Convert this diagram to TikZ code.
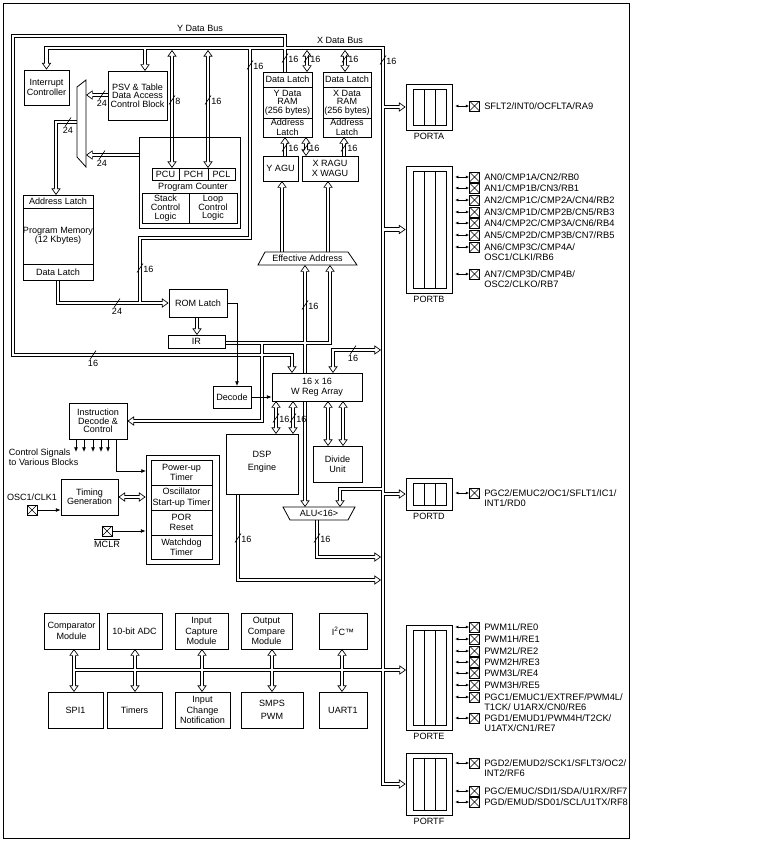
\documentclass[tikz,border=0pt]{standalone}
\usepackage{fontspec}
\setmainfont{Liberation Sans}
\usetikzlibrary{arrows.meta,fit,positioning}
\pgfdeclarelayer{background}
\pgfsetlayers{background,main}

\newcommand{\boxfont}{\fontsize{6.8}{7.8}\selectfont}
\newcommand{\tightfont}{\fontsize{6.8}{6.5}\selectfont}
\newcommand{\loosefont}{\fontsize{6.8}{9.5}\selectfont}
\newcommand{\pinfont}{\fontsize{7}{8}\selectfont}

\tikzset{
  box/.style={draw, line width=0.6pt, inner sep=0pt},
  lbl/.style={inner sep=0.5pt, align=center, font=\boxfont},
  pintext/.style={inner sep=0pt, anchor=west, align=left, font=\pinfont},
  pinx/.style={draw, line width=0.5pt, minimum size=7.5pt, inner sep=0pt,
    path picture={\draw[line width=0.4pt]
      (path picture bounding box.north west) -- (path picture bounding box.south east)
      (path picture bounding box.south west) -- (path picture bounding box.north east);}},
  wire/.style={line width=0.6pt},
  sig/.style={wire, -{Latex[length=3.5pt,width=3pt]}},
  pinarrow/.style={line width=0.5pt, {Latex[length=2.5pt,width=2.2pt]}-{Latex[length=2.5pt,width=2.2pt]}},
  bt/.tip={Triangle[length=5pt,width=7pt,line width=0.5pt,fill=white]},
}

% block between two corners, with its text centred
\newcommand{\blk}[5][]{%
  \node[box, fit={(#3) (#4)}] (#2) {};
  \node[lbl, #1] (#2-t) at (#2.center) {#5};}
% width mark on a vertical bus, number to the right
\newcommand{\bitv}[3]{%
  \draw[line width=0.5pt] (#1-3,#2+4.5) -- (#1+3,#2-4.5);
  \node[lbl, anchor=west] (bw#1-#2) at (#1+2.5,#2+1) {#3};}
% width mark on a horizontal bus, number below
\newcommand{\bith}[3]{%
  \draw[line width=0.5pt] (#1-3,#2+4.5) -- (#1+3,#2-4.5);
  \node[lbl, anchor=north] (bw#1-#2) at (#1,#2+4) {#3};}

% all hollow buses, drawn twice (outline pass, then white pass)
\newcommand{\busnet}{%
  % X data bus
  \draw[bus, tipB] (intctl.north) -- (intctl.north |- xbus) -- (xbus) -- (xbus |- portF.west) -- (portF.west);
  \draw[bus, tipE] (145,48) -- (145,71);
  \draw[bus, tipB] (172,50) -- (172,168);
  \draw[bus, tipB] (208,50) -- (208,168);
  \draw[bus] (250,48) -- (250,238) -- (140,238) -- (140,303);
  \draw[bus, tipB] (307,50) -- (307,72);
  \draw[bus, tipB] (345,50) -- (345,72);
  \draw[bus, tipE] (xbus |- portA.west) -- (portA.west);
  \draw[bus, tipE] (xbus |- portB.west) -- (portB.west);
  \draw[bus, tipE] (xbus |- portD.west) -- (portD.west);
  \draw[bus, tipE] (74,670) -- (406,670);
  \draw[bus, tipB] (333,373) -- (333,350) -- (381,350);
  \draw[bus, tipE] (383,489) -- (340,489) -- (340,507);
  \draw[bus, tipE] (317,520) -- (317,557) -- (381,557);
  \draw[bus, tipE] (238,494) -- (238,580) -- (381,580);
  % Y data bus
  \draw[bus, tipE] (285,72) -- (285,36) -- (13,36) -- (13,355) -- (292,355) -- (292,373);
  % program side
  \draw[bus, tipE] (pdlatch.south) -- (58,303) -- (romlatch.west);
  \draw[bus, tipE] (108,95) -- (86,95);
  \draw[bus, tipE] (139,155) -- (86,155);
  \draw[bus, tipE] (77,122) -- (56,122) -- (56,195);
  \draw[bus, tipE] (197,317) -- (197,335);
  \draw[bus, tipE] (225,343) -- (330,343) -- (330,265);
  \draw[bus, tipE] (262,343) -- (262,421) -- (instdec.east);
  % address generation
  \draw[bus, tipE] (282,252) -- (282,181);
  \draw[bus, tipE] (328,252) -- (328,181);
  \draw[bus, tipE] (285,156) -- (285,137);
  \draw[bus, tipB] (306,156) -- (306,137);
  \draw[bus, tipE] (344,156) -- (344,137);
  % W registers
  \draw[bus, tipE] (305,373) -- (305,265);
  \draw[bus, tipE] (305,401) -- (305,507);
  \draw[bus, tipB] (276,401) -- (276,434);
  \draw[bus, tipB] (293,401) -- (293,434);
  \draw[bus, tipB] (328,401) -- (328,446);
  \draw[bus, tipB] (343,401) -- (343,446);
  \draw[bus, tipB] (timing.east) -- (resetbox.west |- timing.east);
  % peripherals
  \foreach \x in {74,135,202,272,342} {\draw[bus, tipB] (\x,649) -- (\x,692);}
}

\begin{document}
\begin{tikzpicture}[x=0.75pt, y=-0.75pt]
\useasboundingbox (0,0) rectangle (768,842);
\draw[wire] (3,3) rectangle (629,838);

\coordinate (xbus) at (383,48);
\node[lbl] (ybuslbl) at (200,28) {Y Data Bus};
\node[lbl] (xbuslbl) at (340,40) {X Data Bus};

% program side
\blk{intctl}{24,70}{69,105}{Interrupt\\Controller}
\blk[font=\tightfont]{psv}{108,71}{167,120}{PSV \& Table\\Data Access\\Control Block}
\draw[wire] (77,87) -- (86,80) -- (86,167) -- (77,157) -- cycle;
\node[box, fit={(139,137) (240,228)}] (pcbox) {};
\blk{pcu}{152,168}{179,180}{PCU}
\blk{pch}{179,168}{208,180}{PCH}
\blk{pcl}{208,168}{235,180}{PCL}
\node[lbl] (pclbl) at (193,187) {Program Counter};
\blk[font=\tightfont]{stack}{142,193}{189,223}{Stack\\Control\\Logic}
\blk[font=\tightfont]{loopc}{189,193}{237,223}{Loop\\Control\\Logic}
\blk{addrlatch}{23,195}{93,208}{Address Latch}
\blk[font=\tightfont]{pmem}{23,208}{93,264}{Program Memory\\(12 Kbytes)}
\blk{pdlatch}{23,264}{93,280}{Data Latch}
\blk{romlatch}{169,289}{227,317}{ROM Latch}
\blk{ir}{168,335}{225,348}{IR}

% data memories
\blk{ydlatch}{263,72}{312,87}{Data Latch}
\blk[font=\tightfont]{yram}{263,87}{312,118}{Y Data\\RAM\\(256 bytes)}
\blk{yalatch}{263,118}{312,137}{Address\\Latch}
\blk{xdlatch}{323,72}{371,87}{Data Latch}
\blk[font=\tightfont]{xram}{323,87}{371,118}{X Data\\RAM\\(256 bytes)}
\blk{xalatch}{323,118}{371,137}{Address\\Latch}
\blk{yagu}{263,156}{298,181}{Y AGU}
\blk{xagu}{302,156}{358,181}{X RAGU\\X WAGU}
\draw[wire] (265,252) -- (348,252) -- (357,265) -- (258,265) -- cycle;
\node[lbl] (ea) at (307.5,258.5) {Effective Address};

% execution
\blk{decode}{213,386}{251,408}{Decode}
\blk{wreg}{272,373}{362,401}{16 x 16\\W Reg Array}
\blk[font=\loosefont, yshift=1.5pt]{dsp}{226,434}{298,494}{DSP\\Engine}
\blk{divide}{313,446}{362,482}{Divide\\Unit}
\draw[wire] (283,507) -- (355,507) -- (348,520) -- (290,520) -- cycle;
\node[lbl] (alu) at (319,513.5) {ALU<16>};

% control and reset
\blk[font=\tightfont]{instdec}{69,403}{127,439}{Instruction\\Decode \&\\Control}
\node[lbl, anchor=west, align=left] (ctrlsig) at (8,457) {Control Signals\\to Various Blocks};
\blk[font=\tightfont]{timing}{61,479}{118,515}{Timing\\Generation}
\node[pinx] (oscpin) at (32,510) {};
\node[lbl, above=2pt of oscpin] (osclbl) {OSC1/CLK1};
\node[pinx] (mclrpin) at (107,531) {};
\node[lbl, below=1pt of mclrpin] (mclrlbl) {$\overline{\mbox{MCLR}}$};
\node[box, fit={(146,455) (219,564)}] (resetbox) {};
\blk{pwrt}{151,460}{212,485}{Power-up\\Timer}
\blk{ost}{151,485}{212,510}{Oscillator\\Start-up Timer}
\blk{por}{151,510}{212,535}{POR\\Reset}
\blk{wdt}{151,535}{212,559}{Watchdog\\Timer}

% peripherals
\blk{cmp}{44,613}{99,649}{Comparator\\Module}
\blk{adc}{107,613}{162,649}{10-bit ADC}
\blk{icap}{175,613}{228,649}{Input\\Capture\\Module}
\blk{ocmp}{241,613}{292,649}{Output\\Compare\\Module}
\blk{iic}{319,613}{367,649}{I\textsuperscript{2}C\texttrademark}
\blk{spi}{48,692}{103,728}{SPI1}
\blk{tmr}{107,692}{162,728}{Timers}
\blk{icn}{175,692}{230,728}{Input\\Change\\Notification}
\blk[font=\loosefont]{pwm}{241,692}{303,728}{SMPS\\PWM}
\blk{uart}{319,692}{367,728}{UART1}

% ports
\foreach \prt/\yt/\yb in {A/84/130, B/166/293, D/478/510, E/625/730, F/753/815} {
  \node[box, fit={(406,\yt) (452,\yb)}] (port\prt) {};
  \draw[wire] (413,\yt+5) rectangle (446,\yb-5) (424,\yt+5) -- (424,\yb-5) (435,\yt+5) -- (435,\yb-5);
  \node[lbl, below=1.5pt of port\prt.south] (port\prt-lbl) {PORT\prt};
}

% pins
\foreach \prt/\y/\dy/\txt [count=\i] in {
  A/106/0/{SFLT2/INT0/OCFLTA/RA9},
  B/177/0/{AN0/CMP1A/CN2/RB0}, B/188/0/{AN1/CMP1B/CN3/RB1},
  B/200/0/{AN2/CMP1C/CMP2A/CN4/RB2}, B/212/0/{AN3/CMP1D/CMP2B/CN5/RB3},
  B/223/0/{AN4/CMP2C/CMP3A/CN6/RB4}, B/235/0/{AN5/CMP2D/CMP3B/CN7/RB5},
  B/247/5.3/{AN6/CMP3C/CMP4A/\\OSC1/CLKI/RB6}, B/274/5.3/{AN7/CMP3D/CMP4B/\\OSC2/CLKO/RB7},
  D/493/5.3/{PGC2/EMUC2/OC1/SFLT1/IC1/\\INT1/RD0},
  E/627/0/{PWM1L/RE0}, E/639/0/{PWM1H/RE1}, E/651/0/{PWM2L/RE2},
  E/662/0/{PWM2H/RE3}, E/673/0/{PWM3L/RE4}, E/685/0/{PWM3H/RE5},
  E/697/5.3/{PGC1/EMUC1/EXTREF/PWM4L/\\T1CK/ U1ARX/CN0/RE6},
  E/718/5.3/{PGD1/EMUD1/PWM4H/T2CK/\\U1ATX/CN1/RE7},
  F/763/5.3/{PGD2/EMUD2/SCK1/SFLT3/OC2/\\INT2/RF6},
  F/791/0/{PGC/EMUC/SDI1/SDA/U1RX/RF7}, F/802/0/{PGD/EMUD/SD01/SCL/U1TX/RF8}} {
  \node[pinx] (pin\i) at (474.5,\y) {};
  \draw[pinarrow] ([xshift=2pt]port\prt.east |- pin\i.west) -- (pin\i.west);
  \node[pintext] (pintxt\i) at (484,\y+\dy) {\txt};
}

% plain signal lines
\draw[sig] (romlatch.east) -- (237,303) -- (237,386);
\draw[sig] (decode.east) -- (wreg.west |- decode.east);
\foreach \x in {76,84,93,101,108} {\draw[sig] (\x,439) -- (\x,452);}
\draw[sig] (116,439) -- (116,471) -- (146,471);
\draw[sig] (oscpin.east) -- (oscpin.east -| timing.west);
\draw[sig] (mclrpin.east) -- (mclrpin.east -| resetbox.west);

% bus widths
\bitv{250}{65}{16}
\bitv{285}{58}{16}
\bitv{307}{58}{16}
\bitv{345}{58}{16}
\bitv{383}{60}{16}
\bitv{172}{100}{8}
\bitv{208}{100}{16}
\bith{102}{95}{24}
\bith{102}{155}{24}
\bith{68}{122}{24}
\bith{117}{303}{24}
\bitv{140}{268}{16}
\bith{93}{355}{16}
\bitv{305}{305}{16}
\bith{353}{350}{16}
\bitv{285}{147}{16}
\bitv{306}{147}{16}
\bitv{344}{147}{16}
\bitv{276}{418}{16}
\bitv{293}{418}{16}
\bitv{238}{538}{16}
\bitv{317}{538}{16}

\begin{pgfonlayer}{background}
\fill[white] (0,0) rectangle (768,842);
\begin{scope}[bus/.style={line width=3.2pt}, tipS/.style={bt-}, tipE/.style={-bt}, tipB/.style={bt-bt}]
\busnet
\end{scope}
\begin{scope}[bus/.style={white, line width=2.2pt}, tipS/.style={shorten <=2.6pt},
  tipE/.style={shorten >=2.6pt}, tipB/.style={shorten <=2.6pt, shorten >=2.6pt}]
\busnet
\end{scope}
\end{pgfonlayer}
\end{tikzpicture}
\end{document}
